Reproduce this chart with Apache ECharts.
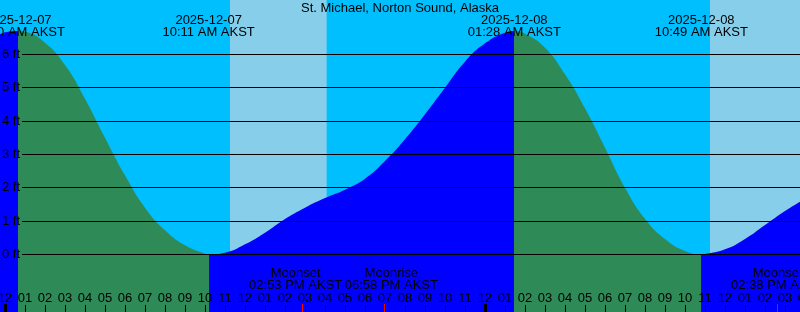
<!DOCTYPE html>
<html><head><meta charset="utf-8">
<script src="https://cdn.jsdelivr.net/npm/echarts@6/dist/echarts.min.js"></script>
<style>html,body{margin:0;padding:0;background:#00BFFF}#c{width:800px;height:312px}</style>
</head><body><div id="c"></div>
<script>
// ---- data (hours since 2025-12-07 00:00 AKST) ----
const chartTitle = 'St. Michael, Norton Sound, Alaska';
const tideHours = [-0.25, 0, 0.667, 1, 2, 3, 4, 5, 6, 7, 8, 9, 10, 10.183,
  11, 12, 13, 14, 15, 16, 17, 18, 19, 20, 21, 22, 23, 24, 25, 25.467,
  26, 27, 28, 29, 30, 31, 32, 33, 34, 34.817, 35, 36, 37, 38, 39, 39.75, 40];
const tideFeet = [6.60, 6.66, 6.70, 6.68, 6.35, 5.68, 4.67, 3.50, 2.37, 1.40, 0.72, 0.27, 0.02, 0.00,
  0.05, 0.30, 0.65, 1.06, 1.40, 1.69, 1.94, 2.27, 2.80, 3.45, 4.20, 5.00, 5.78, 6.33, 6.65, 6.70,
  6.62, 6.20, 5.40, 4.38, 3.20, 2.00, 1.07, 0.46, 0.10, 0.00, 0.01, 0.15, 0.46, 0.88, 1.30, 1.58, 1.67];
const extremeHours = [0.667, 10.183, 25.467, 34.817];
const extremeKinds = ['high', 'low', 'high', 'low'];
const extremeDates = ['2025-12-07', '2025-12-07', '2025-12-08', '2025-12-08'];
const extremeTimes = ['12:40 AM AKST', '10:11 AM AKST', '01:28 AM AKST', '10:49 AM AKST'];
const moonHours = [14.883, 18.967, 38.633];
const moonEvents = ['Moonset', 'Moonrise', 'Moonset'];
const moonTimes = ['02:53 PM AKST', '06:58 PM AKST', '02:38 PM AKST'];
const sunriseHours = [11.25, 35.25];
const sunsetHours = [16.083, 40.05];
const midnightHours = [0, 24];
const footLevels = [0, 1, 2, 3, 4, 5, 6];

// ---- layout ----
const W = 800, H = 312;
const X_ZERO = 5, PX_PER_HOUR = 20;
const Y_ZERO = 254.3, PX_PER_FT = 33.33;
const X_MIN = -1, X_MAX = 40, Y_MIN = -2, Y_MAX = 8;
const gridLeft = X_ZERO + X_MIN * PX_PER_HOUR;
const gridRight = W - (X_ZERO + X_MAX * PX_PER_HOUR);
const gridTop = Y_ZERO - Y_MAX * PX_PER_FT;
const gridBottom = H - (Y_ZERO - Y_MIN * PX_PER_FT);
const moonLabelShift = [-7, 7, 0];
const FONT = "'Liberation Sans', Arial, Helvetica, sans-serif";
const RISE = '#0000FF', FALL = '#2E8B57', NIGHT = '#00BFFF', DAY = '#87CEEB';

const txt = {fontSize: 13, color: '#000', fontFamily: FONT};

const pieces = [];
let prev = -Infinity;
extremeHours.forEach((h, i) => {
  pieces.push({gte: prev, lt: h, color: extremeKinds[i] === 'high' ? RISE : FALL});
  prev = h;
});
pieces.push({gte: prev, lt: Infinity, color: extremeKinds[extremeKinds.length - 1] === 'high' ? FALL : RISE});

const idxOf = (arr, v) => arr.findIndex(a => Math.abs(a - v) < 1e-6);
const hourLabel = v => {
  if (Math.abs(v - Math.round(v)) > 1e-6) return '';
  const m = ((Math.round(v) % 12) + 12) % 12;
  return m === 0 ? '12' : String(m).padStart(2, '0');
};

const lineColors = [];
for (let v = Y_MIN; v <= Y_MAX; v++) lineColors.push(footLevels.includes(v) ? '#000' : 'rgba(0,0,0,0)');

const hidden = {show: false};
const baseX = {gridIndex: 0, type: 'value', min: X_MIN, max: X_MAX, z: 5,
  axisLine: {show: false, onZero: false}, splitLine: {show: false}};
const gridOpt = {outerBoundsMode: 'none', containLabel: false, top: gridTop, bottom: gridBottom};

const xAxes = [
  Object.assign({}, baseX, { // hour ticks
    interval: 1, position: 'bottom', offset: gridBottom,
    axisTick: {inside: true, length: 7, lineStyle: {color: '#000', width: 1}},
    axisLabel: Object.assign({inside: true, margin: 14, verticalAlign: 'middle', hideOverlap: false, formatter: hourLabel}, txt)
  }),
  Object.assign({}, baseX, { // midnight ticks
    position: 'bottom', offset: gridBottom, axisLabel: hidden,
    axisTick: {inside: true, length: 8, customValues: midnightHours, lineStyle: {color: '#000', width: 3}}
  }),
  Object.assign({}, baseX, { // tide extremes at top
    position: 'top', offset: gridTop, axisTick: hidden,
    axisLabel: Object.assign({inside: true, margin: 26.4, verticalAlign: 'middle', lineHeight: 12, hideOverlap: false,
      customValues: extremeHours,
      formatter: v => { const i = idxOf(extremeHours, v); return i < 0 ? '' : extremeDates[i] + '\n' + extremeTimes[i]; }}, txt)
  }),
  {gridIndex: 1, type: 'value', min: 0, max: 1, show: false}
];
// one axis per moon event so labels never get hidden as overlapping
moonHours.forEach((mh, i) => {
  const s = moonLabelShift[i];
  xAxes.push(Object.assign({}, baseX, {
    position: 'bottom', offset: gridBottom,
    axisTick: {inside: true, length: 8, customValues: [mh], lineStyle: {color: '#FF0000', width: 1}},
    axisLabel: Object.assign({inside: true, margin: 32.5, verticalAlign: 'middle', lineHeight: 12, hideOverlap: false,
      customValues: [mh], padding: s < 0 ? [0, -2 * s, 0, 0] : [0, 0, 0, 2 * s],
      formatter: () => moonEvents[i] + '\n' + moonTimes[i]}, txt)
  }));
});

const chart = echarts.init(document.getElementById('c'), null, {renderer: 'canvas'});
chart.setOption({
  animation: false,
  backgroundColor: NIGHT,
  title: {text: chartTitle, left: 'center', top: 2, padding: 0,
    textStyle: Object.assign({fontWeight: 'normal'}, txt)},
  grid: [
    Object.assign({left: gridLeft, right: gridRight}, gridOpt),
    Object.assign({left: 22, right: 0}, gridOpt)
  ],
  visualMap: {show: false, type: 'piecewise', dimension: 0, seriesIndex: 1, pieces: pieces},
  xAxis: xAxes,
  yAxis: [
    {gridIndex: 0, type: 'value', min: Y_MIN, max: Y_MAX, show: false},
    {gridIndex: 1, type: 'value', min: Y_MIN, max: Y_MAX, interval: 1, position: 'left', z: 5,
      axisLine: {show: false, onZero: false}, axisTick: hidden,
      splitLine: {show: true, lineStyle: {color: lineColors, width: 1}},
      axisLabel: Object.assign({margin: 2, formatter: v => footLevels.includes(v) ? v + ' ft' : ''}, txt)}
  ],
  series: [
    {type: 'line', xAxisIndex: 0, yAxisIndex: 0, data: [], z: 1, silent: true,
      markArea: {silent: true, itemStyle: {color: DAY},
        data: sunriseHours.map((s, i) => [{xAxis: s}, {xAxis: sunsetHours[i]}])}},
    {type: 'line', xAxisIndex: 0, yAxisIndex: 0, z: 2, silent: true,
      data: tideHours.map((h, i) => [h, tideFeet[i]]),
      smooth: 0.5, showSymbol: false, symbol: 'none',
      lineStyle: {opacity: 0}, areaStyle: {opacity: 1, origin: 'start'}}
  ]
});
</script></body></html>
